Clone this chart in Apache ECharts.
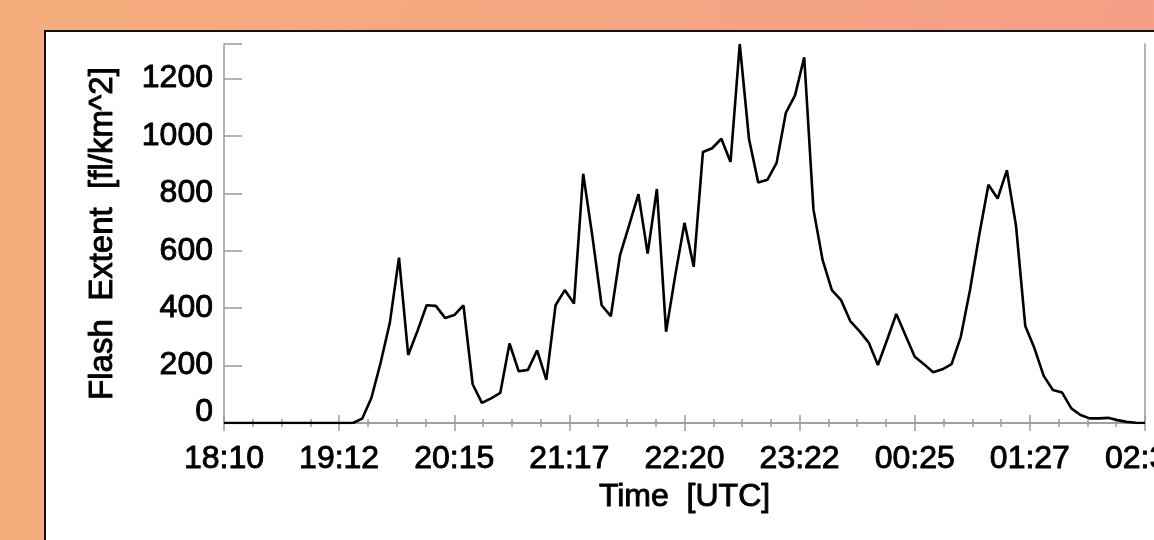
<!DOCTYPE html>
<html>
<head>
<meta charset="utf-8">
<title>Flash Extent</title>
<script src="https://cdn.jsdelivr.net/npm/echarts@6/dist/echarts.min.js"></script>
<style>
  html, body { margin: 0; padding: 0; background: #f4a680; }
  #chart { width: 1154px; height: 540px; }
</style>
</head>
<body>
<div id="chart"></div>
<script>
// Flash extent density, sampled every 5 minutes from 18:10 UTC
const SAMPLE_STEP_MIN = 5;
const flashExtent = [
  0, 0, 0, 0, 0, 0, 0, 0, 0, 0, 0, 0, 0, 0, 0,
  15, 87, 209, 348, 576, 237, 320, 410, 408, 366,
  376, 410, 135, 70, 86, 105, 277, 180, 185, 253,
  150, 410, 463, 416, 868, 650, 410, 372, 585, 690,
  797, 590, 815, 318, 515, 697, 544, 944, 957, 990,
  909, 1320, 990, 838, 847, 906, 1080, 1141, 1274, 744,
  567, 463, 428, 355, 320, 280, 202, 290, 380, 305,
  231, 205, 177, 187, 205, 300, 463, 655, 830, 782,
  880, 686, 338, 260, 164, 115, 106, 51, 28, 16,
  16, 18, 10, 4, 1, 0
];

// Time axis: minutes after 18:10, labelled every 62.5 minutes
const timeTickLabels = ['18:10', '19:12', '20:15', '21:17', '22:20', '23:22', '00:25', '01:27', '02:30'];
const TIME_TICK_STEP = 62.5;
const TIME_SPAN = 500;

const valueTickStep = 200;
const valueMinorStep = 50;

const FONT = "'Liberation Sans', Arial, Helvetica, sans-serif";
const AXIS_GREY = '#9a9a9a';
const TEXT_STYLE = {
  fontFamily: FONT,
  fontSize: 32,
  color: '#000',
  textBorderColor: '#000',
  textBorderWidth: 0.9
};

const seriesData = flashExtent.map((v, i) => [i * SAMPLE_STEP_MIN, v]);

function timeAxis(position, withLabels) {
  return {
    type: 'value',
    position: position,
    min: 0,
    max: TIME_SPAN,
    interval: TIME_TICK_STEP,
    axisLine: { show: true, lineStyle: { color: AXIS_GREY, width: 1.5 } },
    axisTick: { show: true, inside: true, length: 8, lineStyle: { color: AXIS_GREY, width: 1.5 } },
    minorTick: { show: true, splitNumber: 4, length: 4, lineStyle: { color: AXIS_GREY, width: 1.5 } },
    splitLine: { show: false },
    axisLabel: withLabels ? Object.assign({
      show: true,
      margin: 20,
      hideOverlap: false,
      formatter: v => timeTickLabels[Math.round(v / TIME_TICK_STEP)] || ''
    }, TEXT_STYLE) : { show: false },
    name: withLabels ? 'Time  [UTC]' : '',
    nameLocation: 'middle',
    nameGap: 57,
    nameTextStyle: TEXT_STYLE
  };
}

function valueAxis(position, step, tickLen, withLabels, withLine) {
  return {
    type: 'value',
    position: position,
    min: 0,
    max: 'dataMax',
    interval: step,
    axisLine: { show: withLine, lineStyle: { color: AXIS_GREY, width: 1.5 } },
    axisTick: { show: true, inside: true, length: tickLen, lineStyle: { color: AXIS_GREY, width: 1.5 } },
    splitLine: { show: false },
    axisLabel: withLabels ? Object.assign({
      show: true,
      margin: 11,
      formatter: v => {
        if (v % valueTickStep !== 0) return '';
        if (v === 0) return '{zero|0}';
        return String(v);
      },
      rich: {
        zero: Object.assign({ padding: [0, 0, 22, 0] }, TEXT_STYLE)
      }
    }, TEXT_STYLE) : { show: false },
    name: withLabels ? 'Flash  Extent  [fl/km^2]' : '',
    nameLocation: 'middle',
    nameGap: 105,
    nameRotate: 90,
    nameTextStyle: Object.assign({}, TEXT_STYLE, { fontSize: 33 })
  };
}

const chart = echarts.init(document.getElementById('chart'), null, { renderer: 'canvas' });

chart.setOption({
  animation: false,
  backgroundColor: {
    type: 'linear', x: 0, y: 0, x2: 1, y2: 0.3,
    colorStops: [
      { offset: 0, color: '#f5ad7c' },
      { offset: 1, color: '#f49f86' }
    ]
  },
  graphic: [{
    type: 'rect',
    silent: true,
    z: -100,
    shape: { x: 45, y: 31, width: 1130, height: 530 },
    style: { fill: '#ffffff', stroke: '#111111', lineWidth: 2 }
  }],
  grid: {
    left: 224, top: 44, right: 9, bottom: 117,
    containLabel: false,
    outerBoundsMode: 'none'
  },
  xAxis: [
    timeAxis('bottom', true),
    timeAxis('top', false)
  ],
  yAxis: [
    valueAxis('left', valueTickStep, 18, true, true),
    valueAxis('left', valueMinorStep, 9, false, false),
    valueAxis('right', valueTickStep, 18, false, true),
    valueAxis('right', valueMinorStep, 9, false, false)
  ],
  series: [{
    type: 'line',
    xAxisIndex: 0,
    yAxisIndex: 0,
    data: seriesData,
    showSymbol: false,
    symbol: 'none',
    lineStyle: { color: '#000', width: 2.6 },
    z: 5
  }]
});
</script>
</body>
</html>
